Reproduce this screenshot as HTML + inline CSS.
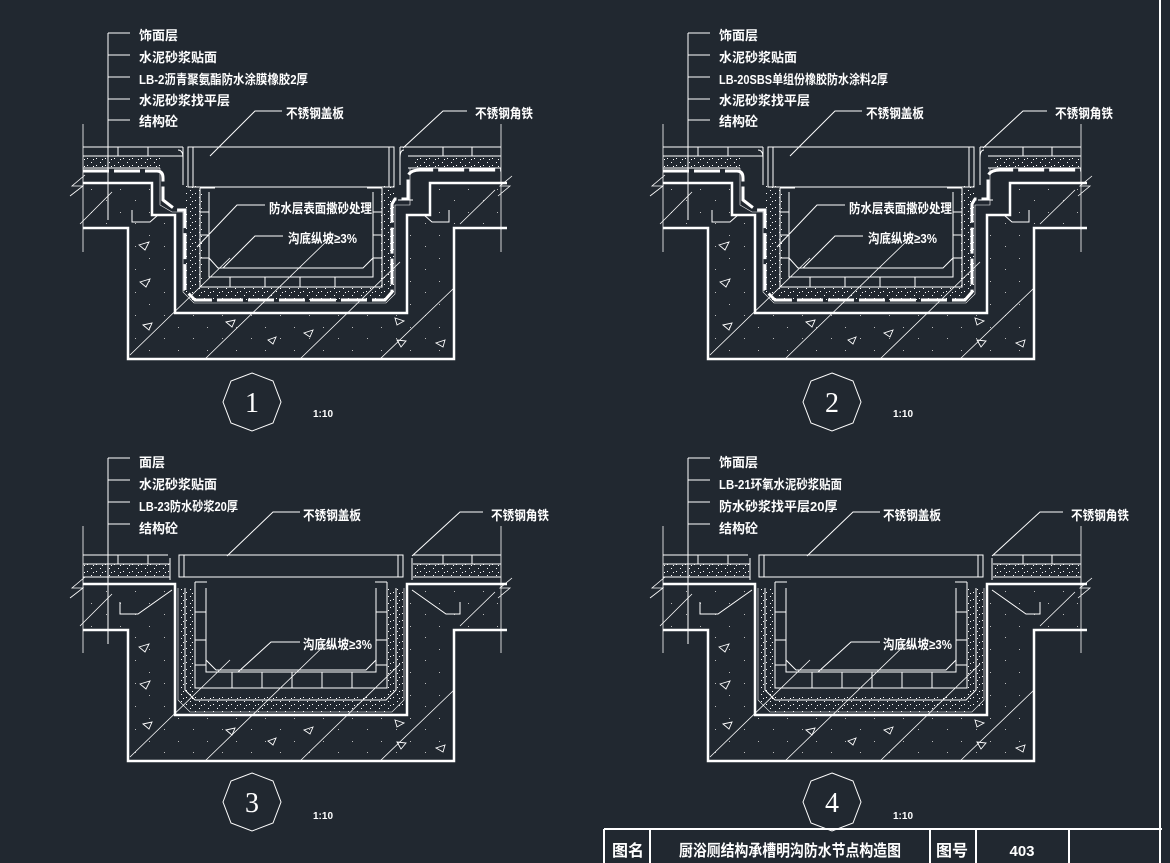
<!DOCTYPE html>
<html><head><meta charset="utf-8"><style>
html,body{margin:0;padding:0;background:#212830;}
svg{display:block}
text{font-family:"Liberation Sans","Noto Sans CJK SC",sans-serif;font-weight:bold;fill:#fff;font-size:13px}
</style></head><body>
<svg width="1170" height="863" viewBox="0 0 1170 863" xmlns="http://www.w3.org/2000/svg">
<defs>
<pattern id="dots" width="9" height="7" patternUnits="userSpaceOnUse">
<rect x="1" y="1" width="1" height="1" fill="#fff"/><rect x="6" y="4" width="1" height="1" fill="#fff"/><rect x="3" y="5" width="1" height="1" fill="#fff"/>
</pattern>
<pattern id="sdots" width="29" height="23" patternUnits="userSpaceOnUse">
<rect x="4" y="5" width="1" height="1" fill="#bbb"/><rect x="19" y="16" width="1" height="1" fill="#bbb"/>
</pattern>
<g id="A" fill="none" stroke="#fff" stroke-width="1">
 <path d="M128,228 L128,359 L454,359 L454,228 L507,228 L507,183 L430,183 L430,215 L407,215 L407,313 L175,313 L175,215 L152,215 L152,183 L83,183 L83,228 Z" fill="url(#sdots)" stroke="none"/>
 <path d="M83,228 L128,228 L128,359 L454,359 L454,228 L507,228" stroke-width="2.5"/>
 <path d="M83,183 L152,183 L152,215 L175,215 L175,313 L407,313 L407,215 L430,215 L430,183 L507,183" stroke-width="2.5"/>
 <path d="M130,355 L230,258 M205,359 L330,238 M300,359 L400,262 M380,359 L454,288 M80,224 L112,192 M460,224 L495,190" stroke-width="0.8"/>
 <path d="M139,245 l10,-3 l-4,8 z M140,282 l10,-3 l-4,8 z M143,325 l9,-2 l-3,7 z M226,322 l9,-2 l-3,7 z M276,337 l-8,3 l5,4 z M313,330 l-9,3 l6,4 z M395,318 l9,3 l-7,4 z M397,340 l9,1 l-5,6 z M445,340 l-9,3 l7,4 z" stroke-width="0.9"/>
 <path d="M83,124 L83,252 M501,124 L501,252 M70,196 L83,186 L72,186 L85,175 M512,176 L500,186 L510,186 L498,196" stroke-width="0.8"/>
 <path d="M83,147 H183 M83,156 H183 M83,168 H160 M118,147 V156 M148,147 V156 M183,147 V185" />
 <path d="M400,147 H501 M408,156 H501 M408,168 H501 M443,147 V156 M472,147 V156 M400,147 V185" />
 <rect x="83" y="156" width="78" height="12" fill="url(#dots)" stroke="none"/>
 <rect x="412" y="156" width="89" height="12" fill="url(#dots)" stroke="none"/>
 <path d="M83,171 H157 Q163,171 163,178 V200 L176,210 H185 V290 L195,300 H385 L392,292 V204 L395,199 H408 V176 Q410,170 420,170 H501" stroke-width="3" stroke-dasharray="26,5"/>
 <path d="M160,168 V205 L172,212 H183 V292 L194,303 H386 L395,294 V205 H410 V168" fill="none" stroke="#fff" stroke-width="0.6"/>
 <rect x="185" y="185" width="17" height="107" fill="url(#dots)" stroke="none"/>
 <rect x="380" y="185" width="17" height="107" fill="url(#dots)" stroke="none"/>
 <rect x="190" y="287" width="200" height="14" fill="url(#dots)" stroke="none"/>
 <rect x="188" y="147" width="206" height="40"/>
 <path d="M193,147 V187 M389,147 V187"/>
 <path d="M178,150 Q183,150 183,158 V185 M404,150 Q400,150 400,158 V185"/>
 <path d="M200,188 V287 H382 V188 M209,192 V277 H373 V192 M200,188 H215 M367,188 H382"/>
 <path d="M200,212 H209 M200,235 H209 M200,258 H209 M373,212 H382 M373,235 H382 M373,258 H382 M230,277 V287 M265,277 V287 M300,277 V287 M335,277 V287"/>
 <path d="M209,258 L218,268 H363 L373,258"/>
 <path d="M132,210 V222 H150 L158,215 M449,210 V222 H432 L424,215 M398,200 H413" stroke-width="1"/>
</g>
<g id="B" fill="none" stroke="#fff" stroke-width="1">
 <path d="M128,630 L128,761 L454,761 L454,630 L507,630 L507,584 L407,584 L407,715 L175,715 L175,584 L83,584 L83,630 Z" fill="url(#sdots)" stroke="none"/>
 <path d="M83,630 L128,630 L128,761 L454,761 L454,630 L507,630" stroke-width="2.5"/>
 <path d="M83,584 L175,584 L175,715 L407,715 L407,584 L507,584" stroke-width="2.5"/>
 <path d="M130,757 L230,660 M205,761 L330,640 M300,761 L400,664 M380,761 L454,690 M80,626 L112,594 M460,626 L495,592" stroke-width="0.8"/>
 <path d="M139,647 l10,-3 l-4,8 z M140,684 l10,-3 l-4,8 z M143,724 l9,-2 l-3,7 z M226,730 l9,-2 l-3,7 z M276,738 l-8,3 l5,4 z M313,727 l-9,3 l6,4 z M395,720 l9,3 l-7,4 z M397,742 l9,1 l-5,6 z M445,745 l-9,3 l7,4 z" stroke-width="0.9"/>
 <path d="M83,526 V653 M501,526 V653 M70,598 L83,588 L72,588 L85,577 M512,578 L500,588 L510,588 L498,598" stroke-width="0.8"/>
 <path d="M83,555 H168 M83,564 H170 M83,577 H170 M118,555 V564 M148,555 V564 M170,558 V580"/>
 <path d="M413,555 H501 M413,564 H501 M413,577 H501 M443,555 V564 M472,555 V564 M412,558 V580"/>
 <rect x="83" y="564" width="86" height="13" fill="url(#dots)" stroke="none"/>
 <rect x="414" y="564" width="87" height="13" fill="url(#dots)" stroke="none"/>
 <rect x="179" y="555" width="224" height="22"/>
 <path d="M184,555 V577 M398,555 V577"/>
 <path d="M178,588 V700 L190,712 H392 L404,700 V588" stroke-width="0.6"/>
 <rect x="178" y="588" width="17" height="120" fill="url(#dots)" stroke="none"/>
 <rect x="387" y="588" width="17" height="120" fill="url(#dots)" stroke="none"/>
 <rect x="190" y="697" width="200" height="15" fill="url(#dots)" stroke="none"/>
 <path d="M185,588 V690 L195,700 H386 L396,690 V588"/>
 <path d="M195,582 V688 H387 V582 M206,588 V672 H376 V588 M195,582 H207 M375,582 H387"/>
 <path d="M195,612 H206 M195,640 H206 M195,665 H206 M376,612 H387 M376,640 H387 M376,665 H387 M232,672 V688 M262,672 V688 M292,672 V688 M322,672 V688 M352,672 V688"/>
 <path d="M206,660 L216,670 H366 L376,660"/>
 <path d="M120,602 V614 H138 L172,590 M460,602 V614 H446 L412,590" stroke-width="1"/>
</g>
</defs>

<use href="#A"/>
<use href="#A" x="580"/>
<use href="#B"/>
<use href="#B" x="580"/>

<g stroke="#fff" fill="none" stroke-width="1">
 <path d="M108,33 V220 M108,33 H130 M108,55 H130 M108,77 H130 M108,99 H130 M108,120 H130"/>
 <path d="M282,111 H255 L210,156 M467,111 H443 L403,148 M265,205 H237 L197,247 M283,236 H255 L223,268"/>
 <path transform="translate(580,0)" d="M108,33 V220 M108,33 H130 M108,55 H130 M108,77 H130 M108,99 H130 M108,120 H130 M282,111 H255 L210,156 M467,111 H443 L403,148 M265,205 H237 L197,247 M283,236 H255 L223,268"/>
 <path d="M108,458 V644 M108,458 H130 M108,480 H130 M108,502 H130 M108,524 H130 M300,512 H273 L227,556 M483,512 H460 L412,556 M300,642 H271 L238,672"/>
 <path transform="translate(580,0)" d="M108,458 V644 M108,458 H130 M108,480 H130 M108,502 H130 M108,524 H130 M300,512 H273 L227,556 M483,512 H460 L412,556 M300,642 H271 L238,672"/>
 <polygon points="252,373 273,381 281,402 273,423 252,431 231,423 223,402 231,381"/>
 <polygon points="832,373 853,381 861,402 853,423 832,431 811,423 803,402 811,381"/>
 <polygon points="252,773 273,781 281,802 273,823 252,831 231,823 223,802 231,781"/>
 <polygon points="832,773 853,781 861,802 853,823 832,831 811,823 803,802 811,781"/>
 <path d="M604,829 H1162 M604,829 V863 M650,829 V863 M930,829 V863 M976,829 V863 M1069,829 V863 M1160,0 V863" stroke-width="2"/>
</g>

<g>
 <text x="139" y="40">饰面层</text>
 <text x="139" y="62">水泥砂浆贴面</text>
 <text x="139" y="84" textLength="169" lengthAdjust="spacingAndGlyphs">LB-2沥青聚氨酯防水涂膜橡胶2厚</text>
 <text x="139" y="105">水泥砂浆找平层</text>
 <text x="139" y="126">结构砼</text>
 <text x="286" y="118" textLength="58" lengthAdjust="spacingAndGlyphs">不锈钢盖板</text>
 <text x="475" y="118" textLength="58" lengthAdjust="spacingAndGlyphs">不锈钢角铁</text>
 <text x="269" y="213" textLength="103" lengthAdjust="spacingAndGlyphs">防水层表面撒砂处理</text>
 <text x="288" y="243" textLength="69" lengthAdjust="spacingAndGlyphs">沟底纵坡≥3%</text>

 <text x="719" y="40">饰面层</text>
 <text x="719" y="62">水泥砂浆贴面</text>
 <text x="719" y="84" textLength="169" lengthAdjust="spacingAndGlyphs">LB-20SBS单组份橡胶防水涂料2厚</text>
 <text x="719" y="105">水泥砂浆找平层</text>
 <text x="719" y="126">结构砼</text>
 <text x="866" y="118" textLength="58" lengthAdjust="spacingAndGlyphs">不锈钢盖板</text>
 <text x="1055" y="118" textLength="58" lengthAdjust="spacingAndGlyphs">不锈钢角铁</text>
 <text x="849" y="213" textLength="103" lengthAdjust="spacingAndGlyphs">防水层表面撒砂处理</text>
 <text x="868" y="243" textLength="69" lengthAdjust="spacingAndGlyphs">沟底纵坡≥3%</text>

 <text x="139" y="467">面层</text>
 <text x="139" y="489">水泥砂浆贴面</text>
 <text x="139" y="511" textLength="99" lengthAdjust="spacingAndGlyphs">LB-23防水砂浆20厚</text>
 <text x="139" y="533">结构砼</text>
 <text x="303" y="520" textLength="58" lengthAdjust="spacingAndGlyphs">不锈钢盖板</text>
 <text x="491" y="520" textLength="58" lengthAdjust="spacingAndGlyphs">不锈钢角铁</text>
 <text x="303" y="649" textLength="69" lengthAdjust="spacingAndGlyphs">沟底纵坡≥3%</text>

 <text x="719" y="467">饰面层</text>
 <text x="719" y="489" textLength="123" lengthAdjust="spacingAndGlyphs">LB-21环氧水泥砂浆贴面</text>
 <text x="719" y="511">防水砂浆找平层20厚</text>
 <text x="719" y="533">结构砼</text>
 <text x="883" y="520" textLength="58" lengthAdjust="spacingAndGlyphs">不锈钢盖板</text>
 <text x="1071" y="520" textLength="58" lengthAdjust="spacingAndGlyphs">不锈钢角铁</text>
 <text x="883" y="649" textLength="69" lengthAdjust="spacingAndGlyphs">沟底纵坡≥3%</text>

 <text x="252" y="412" text-anchor="middle" style="font-family:'Liberation Serif',serif;font-weight:normal;font-size:28px">1</text>
 <text x="832" y="412" text-anchor="middle" style="font-family:'Liberation Serif',serif;font-weight:normal;font-size:28px">2</text>
 <text x="252" y="812" text-anchor="middle" style="font-family:'Liberation Serif',serif;font-weight:normal;font-size:28px">3</text>
 <text x="832" y="812" text-anchor="middle" style="font-family:'Liberation Serif',serif;font-weight:normal;font-size:28px">4</text>
 <text x="313" y="417" style="font-size:10px">1:10</text>
 <text x="893" y="417" style="font-size:10px">1:10</text>
 <text x="313" y="819" style="font-size:10px">1:10</text>
 <text x="893" y="819" style="font-size:10px">1:10</text>

 <text x="612" y="856" style="font-size:16px">图名</text>
 <text x="790" y="856" text-anchor="middle" style="font-size:16px" textLength="222" lengthAdjust="spacingAndGlyphs">厨浴厕结构承槽明沟防水节点构造图</text>
 <text x="936" y="856" style="font-size:16px">图号</text>
 <text x="1022" y="856" text-anchor="middle" style="font-size:15px">403</text>
</g>
</svg>
</body></html>
